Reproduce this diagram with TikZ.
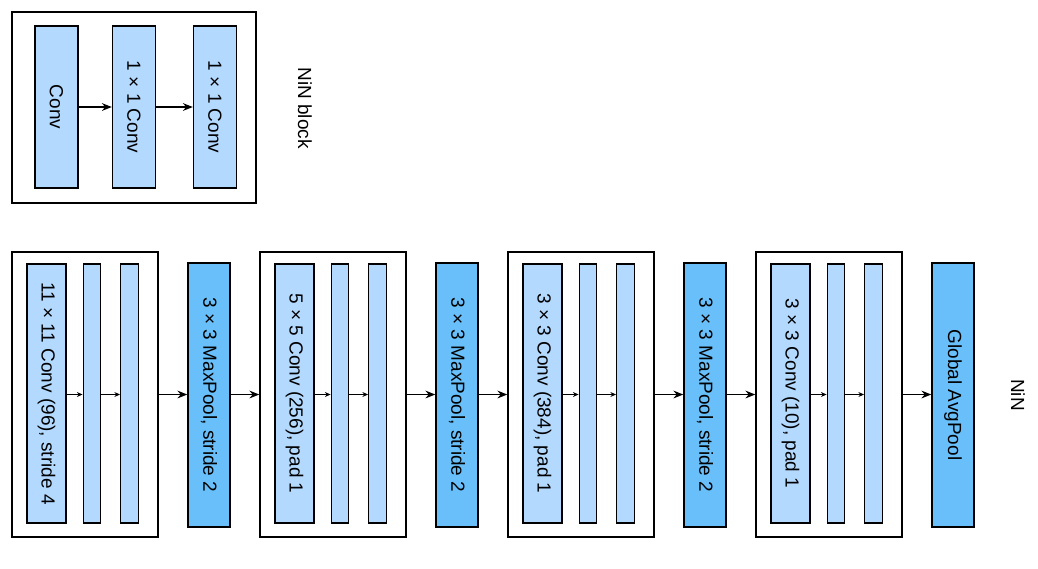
\documentclass[tikz,border=0pt]{standalone}
\usepackage{fontspec}
\setmainfont{Liberation Sans}
\usetikzlibrary{arrows.meta}
\definecolor{convblue}{RGB}{179,217,255}
\definecolor{poolblue}{RGB}{104,191,250}

\begin{document}
\begin{tikzpicture}[x=0.025cm,y=-0.025cm,
    every node/.style={font=\fontsize{13.5}{16}\selectfont,inner sep=0pt},
    frame/.style={draw,line width=1pt,minimum width=146*0.025cm,minimum height=285*0.025cm},
    convbox/.style={draw,fill=convblue,line width=1pt,minimum width=39*0.025cm,minimum height=259*0.025cm},
    thinbox/.style={convbox,minimum width=17.5*0.025cm},
    poolbox/.style={draw,fill=poolblue,line width=1pt,minimum width=42*0.025cm,minimum height=264*0.025cm},
    flow/.style={-{Stealth[length=7pt,width=5.5pt]},line width=1pt},
    innerflow/.style={-{Stealth[length=4pt,width=3.5pt]},line width=0.9pt}]
    \useasboundingbox (0,0) rectangle (1038,568);
    % NiN block
    \node[frame,minimum width=244*0.025cm,minimum height=191*0.025cm] (nb) at (134,107.5) {};
    \node[convbox,minimum width=43*0.025cm,minimum height=162*0.025cm] (nb1) at (56.5,107) {\rotatebox{-90}{Conv}};
    \node[convbox,minimum width=43*0.025cm,minimum height=162*0.025cm] (nb2) at (134,107) {\rotatebox{-90}{1 × 1 Conv}};
    \node[convbox,minimum width=43*0.025cm,minimum height=162*0.025cm] (nb3) at (215,107) {\rotatebox{-90}{1 × 1 Conv}};
    \draw[flow] (nb1) -- (nb2);
    \draw[flow] (nb2) -- (nb3);
    \node (nblabel) at (305,108) {\rotatebox{-90}{NiN block}};
    % NiN
    \foreach \i/\conv/\pool in {0/{11 × 11 Conv (96), stride 4}/{3 × 3 MaxPool, stride 2},
                                1/{5 × 5 Conv (256), pad 1}/{3 × 3 MaxPool, stride 2},
                                2/{3 × 3 Conv (384), pad 1}/{3 × 3 MaxPool, stride 2},
                                3/{3 × 3 Conv (10), pad 1}/{Global AvgPool}} {
      \pgfmathsetmacro{\L}{12+248*\i}
      \node[frame] (blk\i) at (\L+73,394.5) {};
      \node[convbox] (conv\i) at (\L+34.5,393.5) {\rotatebox{-90}{\conv}};
      \node[thinbox] (thina\i) at (\L+80,393.5) {};
      \node[thinbox] (thinb\i) at (\L+117.5,393.5) {};
      \node[poolbox] (pool\i) at (\L+197,395) {\rotatebox{-90}{\pool}};
      \draw[innerflow] (conv\i.east |- blk\i) -- (thina\i.west |- blk\i);
      \draw[innerflow] (thina\i.east |- blk\i) -- (thinb\i.west |- blk\i);
      \draw[flow] (blk\i.east) -- (pool\i.west |- blk\i);
    }
    \foreach \i/\j in {0/1,1/2,2/3}
      \draw[flow] (pool\i.east |- blk\i) -- (blk\j.west);
    \node (ninlabel) at (1018,395) {\rotatebox{-90}{NiN}};
\end{tikzpicture}
\end{document}
